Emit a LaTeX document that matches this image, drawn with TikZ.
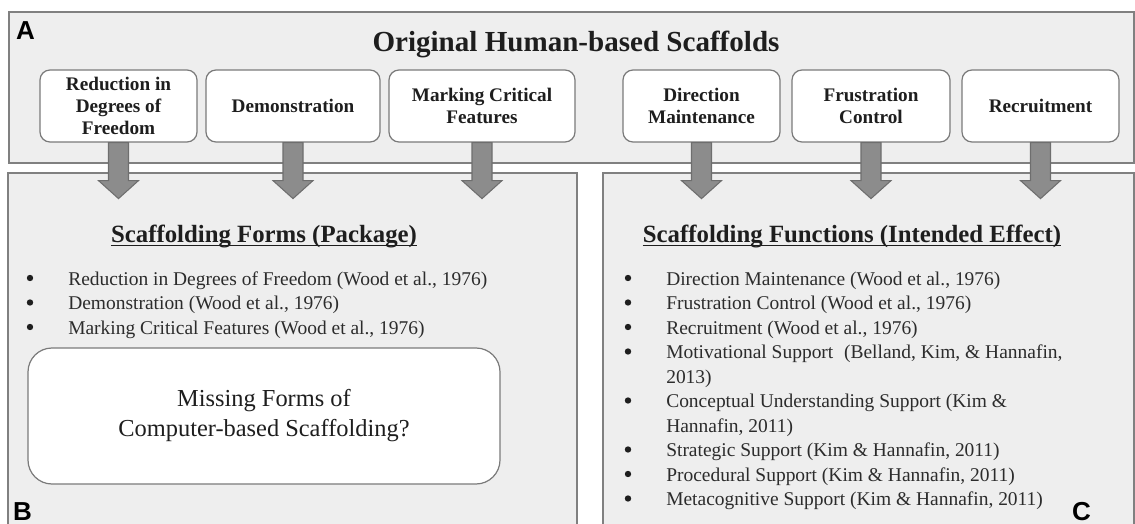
\documentclass[tikz,border=0pt]{standalone}
\usepackage{fontspec}
\setmainfont{Liberation Serif}
\newfontfamily\labelfont{Liberation Sans}
\usetikzlibrary{calc}

\definecolor{panelfill}{HTML}{EEEEEE}
\definecolor{panelline}{HTML}{808080}
\definecolor{boxline}{HTML}{7A7A7A}
\definecolor{arrowfill}{HTML}{8C8C8C}
\definecolor{arrowline}{HTML}{6E6E6E}
\definecolor{ink}{HTML}{1E1E1E}
\definecolor{bodyink}{HTML}{2C2C2C}

\begin{document}
\begin{tikzpicture}[x=0.75pt,y=-0.75pt,
  panel/.style={fill=panelfill,draw=panelline,line width=1.1pt},
  scaffold/.style={draw=boxline,fill=white,rounded corners=7.5pt,line width=0.9pt,
    minimum height=54pt,align=center,inner sep=0pt,text=ink,
    font=\fontsize{14.4}{16.5}\selectfont\bfseries},
  titletext/.style={inner sep=0pt,text=ink,font=\fontsize{21.8}{25}\selectfont\bfseries},
  heading/.style={inner sep=0pt,text=ink,font=\fontsize{18.6}{22}\selectfont\bfseries},
  item/.style={inner sep=0pt,anchor=base west,text=bodyink,font=\fontsize{14.6}{18.3}\selectfont},
  dot/.style={circle,fill=ink,inner sep=0pt,minimum size=4.8pt},
  missing/.style={draw=boxline,fill=white,rounded corners=18pt,line width=0.9pt,
    minimum width=354pt,minimum height=102pt,align=center,inner sep=0pt,text=ink,
    font=\fontsize{18.3}{22.5}\selectfont},
  panellabel/.style={inner sep=0pt,anchor=base,text=black,font=\labelfont\fontsize{19.5}{22}\selectfont\bfseries},
  blockarrow/.style={fill=arrowfill,draw=arrowline,line width=0.8pt,line join=miter}
]
\useasboundingbox (0,0) rectangle (1135,524);

% three panels
\path[panel] (9,12) rectangle (1134,163);
\path[panel] (8,173) rectangle (577,540);
\path[panel] (603,173) rectangle (1134,540);

% panel A: the original scaffolds
\node[titletext,anchor=base] (title) at (576,52) {Original Human-based Scaffolds};

\node[scaffold,minimum width=117.75pt] (b1) at (118.5,106) {Reduction in\\Degrees of\\Freedom};
\node[scaffold,minimum width=130.5pt]  (b2) at (293,106)   {Demonstration};
\node[scaffold,minimum width=139.5pt]  (b3) at (482,106)   {Marking Critical\\Features};
\node[scaffold,minimum width=117.75pt] (b4) at (701.5,106) {Direction\\Maintenance};
\node[scaffold,minimum width=118.5pt]  (b5) at (871,106)   {Frustration\\Control};
\node[scaffold,minimum width=117.75pt] (b6) at (1040.5,106){Recruitment};

% block arrows from each scaffold down into the lower panels
\foreach \i in {1,...,6}{
  \path (b\i.south) ++(0,56) coordinate (tip\i);
  \draw[blockarrow]
    ($(b\i.south)+(-10,0)$) -- ($(b\i.south)+(10,0)$) --
    ($(tip\i)+(10,-18)$) -- ($(tip\i)+(20,-18)$) -- (tip\i) --
    ($(tip\i)+(-20,-18)$) -- ($(tip\i)+(-10,-18)$) -- cycle;
}

% panel B: forms
\node[heading,anchor=base] (hB) at (264,242) {Scaffolding Forms (Package)};
\draw[ink,line width=0.9pt] ($(hB.base west)+(0,3.5)$) -- ($(hB.base east)+(0,3.5)$);

\foreach \t [count=\i] in {
  {Reduction in Degrees of Freedom (Wood et al., 1976)},
  {Demonstration (Wood et al., 1976)},
  {Marking Critical Features (Wood et al., 1976)}}{
  \node[item] (fB\i) at (68,{285+(\i-1)*24.5}) {\t};
  \node[dot] (dB\i) at (30,{278+(\i-1)*24.5}) {};
}

\node[missing] (miss) at (264,416) {Missing Forms of\\Computer-based Scaffolding?};

% panel C: functions
\node[heading,anchor=base] (hC) at (852,242) {Scaffolding Functions (Intended Effect)};
\draw[ink,line width=0.9pt] ($(hC.base west)+(0,3.5)$) -- ($(hC.base east)+(0,3.5)$);

\node[item] (fC1) at (666,285)   {Direction Maintenance (Wood et al., 1976)};
\node[item] (fC2) at (666,309.5) {Frustration Control (Wood et al., 1976)};
\node[item] (fC3) at (666,334)   {Recruitment (Wood et al., 1976)};
\node[item] (fC4) at (666,358.5) {Motivational Support\hspace{0.55em}(Belland, Kim, \& Hannafin,};
\node[item] (fC4b) at (666,383) {2013)};
\node[item] (fC5) at (666,407.5) {Conceptual Understanding Support (Kim \&};
\node[item] (fC5b) at (666,432) {Hannafin, 2011)};
\node[item] (fC6) at (666,456.5) {Strategic Support (Kim \& Hannafin, 2011)};
\node[item] (fC7) at (666,481)   {Procedural Support (Kim \& Hannafin, 2011)};
\node[item] (fC8) at (666,505.5) {Metacognitive Support (Kim \& Hannafin, 2011)};

\foreach \y [count=\i] in {285,309.5,334,358.5,407.5,456.5,481,505.5}{
  \node[dot] (dC\i) at (628,\y-7) {};
}

% panel letters
\node[panellabel] (labA) at (25.5,40) {A};
\node[panellabel] (labB) at (22.5,520) {B};
\node[panellabel] (labC) at (1081.5,520) {C};
\end{tikzpicture}
\end{document}
